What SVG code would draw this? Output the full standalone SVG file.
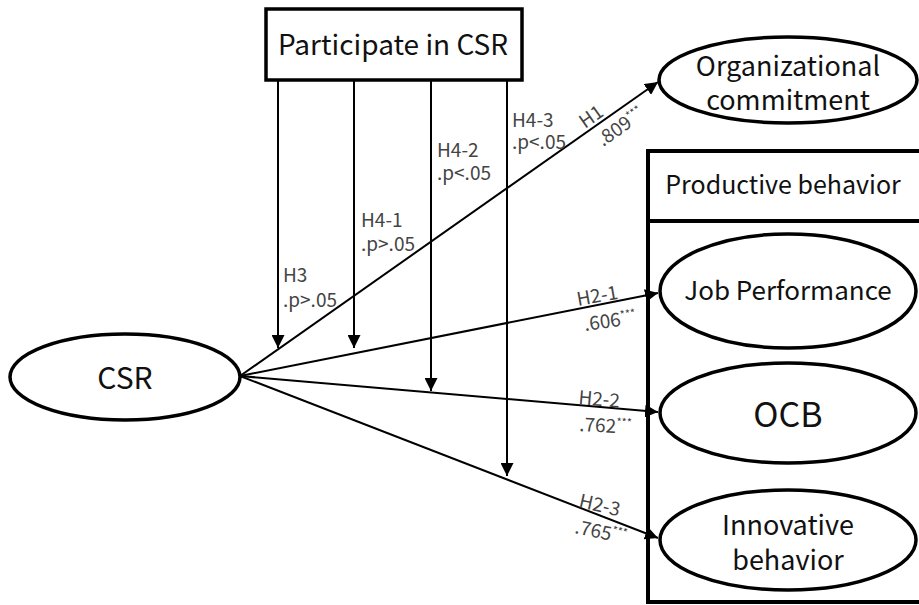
<svg xmlns="http://www.w3.org/2000/svg" width="919" height="605" viewBox="0 0 919 605">
<defs>
<style>
.t{font-family:"Noto Sans CJK KR","Noto Sans",sans-serif;fill:#111;text-anchor:middle}
.l{font-family:"Noto Sans CJK KR","Noto Sans",sans-serif;fill:#444;font-size:19px}
.s{font-size:11px}
.node{fill:#fff;stroke:#000;stroke-width:3.5}
.c{stroke:#000;stroke-width:2;fill:none}
</style>
<marker id="ah" viewBox="0 0 12 12" refX="12" refY="6" markerWidth="13" markerHeight="13" markerUnits="userSpaceOnUse" orient="auto">
<path d="M0,0 L12,6 L0,12 z" fill="#000"/>
</marker>
</defs>
<rect width="919" height="605" fill="#fff"/>
<g id="productive-behavior">
<rect x="648" y="151" width="275" height="451" fill="#fff" stroke="#000" stroke-width="4"/>
<line x1="648" y1="221" x2="923" y2="221" stroke="#000" stroke-width="4"/>
<text class="t" x="783" y="194" font-size="25">Productive behavior</text>
</g>
<g id="participate">
<rect class="node" x="266" y="9" width="256" height="71"/>
<text class="t" x="393" y="55" font-size="28">Participate in CSR</text>
</g>
<g id="csr">
<ellipse class="node" cx="125" cy="377" rx="115" ry="43"/>
<text class="t" x="125" y="389" font-size="30">CSR</text>
</g>
<g id="org-commitment">
<ellipse class="node" cx="788" cy="80" rx="129" ry="43"/>
<text class="t" x="788" y="76" font-size="27">Organizational</text>
<text class="t" x="788" y="110" font-size="27">commitment</text>
</g>
<g id="job-performance">
<ellipse class="node" cx="788" cy="291" rx="128" ry="57"/>
<text class="t" x="788" y="300" font-size="26">Job Performance</text>
</g>
<g id="ocb">
<ellipse class="node" cx="788" cy="413" rx="128" ry="50"/>
<text class="t" x="788" y="427" font-size="34">OCB</text>
</g>
<g id="innovative-behavior">
<ellipse class="node" cx="788" cy="540" rx="128" ry="50"/>
<text class="t" x="788" y="535" font-size="27">Innovative</text>
<text class="t" x="788" y="570" font-size="27">behavior</text>
</g>
<g id="connectors">
<line class="c" x1="240" y1="376" x2="658" y2="82" marker-end="url(#ah)"/>
<line class="c" x1="240" y1="376" x2="658" y2="293" marker-end="url(#ah)"/>
<line class="c" x1="240" y1="376" x2="658" y2="412" marker-end="url(#ah)"/>
<line class="c" x1="240" y1="376" x2="658" y2="538" marker-end="url(#ah)"/>
<line class="c" x1="278" y1="80" x2="278" y2="348" marker-end="url(#ah)"/>
<line class="c" x1="354" y1="80" x2="354" y2="348" marker-end="url(#ah)"/>
<line class="c" x1="431" y1="80" x2="431" y2="391" marker-end="url(#ah)"/>
<line class="c" x1="507" y1="80" x2="507" y2="476" marker-end="url(#ah)"/>
</g>
<g id="labels">
<text class="l" x="283" y="282">H3</text>
<text class="l" x="283" y="307">.p&gt;.05</text>
<text class="l" x="361" y="227">H4-1</text>
<text class="l" x="361" y="251">.p&gt;.05</text>
<text class="l" x="437" y="157">H4-2</text>
<text class="l" x="437" y="180">.p&lt;.05</text>
<text class="l" x="512" y="127">H4-3</text>
<text class="l" x="512" y="149">.p&lt;.05</text>
<text class="l" transform="translate(585,129) rotate(-35)">H1</text>
<text class="l" transform="translate(603,147) rotate(-35)">.809<tspan class="s" dy="-7">***</tspan></text>
<text class="l" transform="translate(578,306) rotate(-10)">H2-1</text>
<text class="l" transform="translate(585,331) rotate(-8)">.606<tspan class="s" dy="-7">***</tspan></text>
<text class="l" transform="translate(578,404) rotate(5)">H2-2</text>
<text class="l" transform="translate(579,431) rotate(3)">.762<tspan class="s" dy="-7">***</tspan></text>
<text class="l" transform="translate(578,507) rotate(13)">H2-3</text>
<text class="l" transform="translate(574,533) rotate(12)">.765<tspan class="s" dy="-7">***</tspan></text>
</g>
</svg>
